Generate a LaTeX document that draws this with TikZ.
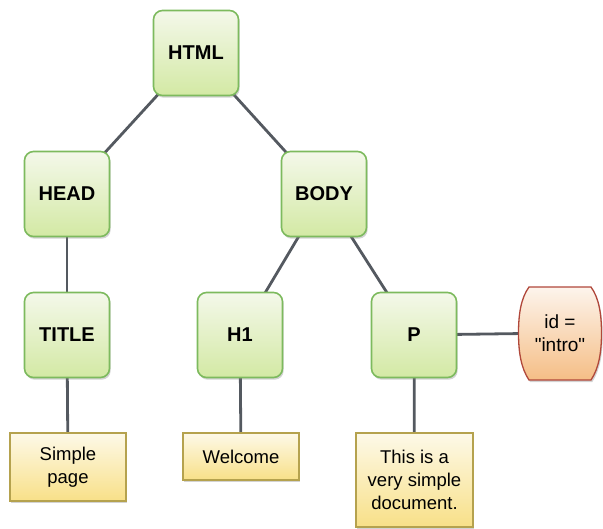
\documentclass[tikz,border=0pt]{standalone}
\usepackage{fontspec}
\setmainfont{Liberation Sans}
\newfontfamily\idfont{Liberation Sans}[Ligatures=ResetAll]
\usetikzlibrary{shadows,backgrounds}
\definecolor{gtop}{HTML}{F4F8EA}
\definecolor{gbot}{HTML}{D3E9A4}
\definecolor{gedge}{HTML}{7DBA5E}
\definecolor{ytop}{HTML}{FDF9E8}
\definecolor{ybot}{HTML}{F8E088}
\definecolor{yedge}{HTML}{B5A24E}
\definecolor{rtop}{HTML}{FDF4EC}
\definecolor{rbot}{HTML}{F5BE86}
\definecolor{redge}{HTML}{B0473A}
\definecolor{link}{HTML}{545960}
\tikzset{
  shad/.style={drop shadow={opacity=0.35, shadow xshift=1.2pt, shadow yshift=-2.2pt}},
  elem/.style={draw=gedge, line width=1.6pt, rounded corners=9pt, top color=gtop, bottom color=gbot,
    minimum width=85pt, minimum height=85pt, inner sep=0pt,
    font=\fontsize{20}{24}\selectfont\bfseries, shad},
  txt/.style={draw=yedge, line width=1.3pt, top color=ytop, bottom color=ybot,
    minimum width=116pt, inner sep=0pt, align=center,
    font=\fontsize{18.5}{23}\selectfont, shad},
  attrshape/.style={draw=redge, line width=1.3pt, top color=rtop, bottom color=rbot, shad},
  attrtext/.style={minimum width=84pt, minimum height=93pt, inner sep=0pt,
    align=center, font=\idfont\fontsize{19}{23}\selectfont},
  link/.style={draw=link, line width=2.8pt}
}
\begin{document}
\begin{tikzpicture}[x=1pt,y=-1pt]
\useasboundingbox (0,0) rectangle (603,528);
\node[elem] (html) at (196,53) {HTML};
\node[elem] (head) at (67,194) {HEAD};
\node[elem] (body) at (324,194) {BODY};
\node[elem] (title) at (67,335) {TITLE};
\node[elem] (h1) at (240,335) {H1};
\node[elem] (p) at (414,335) {P};
\path[attrshape] (529,287) -- (591,287)
  .. controls (599,298) and (601.5,314) .. (601.5,333)
  .. controls (601.5,352) and (599,368) .. (591,380)
  -- (529,380)
  .. controls (521,368) and (518.5,352) .. (518.5,333)
  .. controls (518.5,314) and (521,298) .. (529,287) -- cycle;
\node[attrtext] (id) at (560,333) {id =\\"intro"};
\node[txt, minimum height=68pt] (simple) at (68,467) {Simple\\page};
\node[txt, minimum height=47pt] (welcome) at (241,456.5) {Welcome};
\node[txt, minimum height=94pt, minimum width=117pt] (doc) at (414.5,480) {This is a\\very simple\\document.};
\begin{scope}[on background layer]
\draw[link] (html.center) -- (head.center);
\draw[link] (html.center) -- (body.center);
\draw[link] (head.center) -- (title.center);
\draw[link] (body.center) -- (h1.center);
\draw[link] (body.center) -- (p.center);
\draw[link] (p.center) -- (id.center);
\draw[link] (title.center) -- (simple.center);
\draw[link] (h1.center) -- (welcome.center);
\draw[link] (p.center) -- (doc.center);
\end{scope}
\end{tikzpicture}
\end{document}
